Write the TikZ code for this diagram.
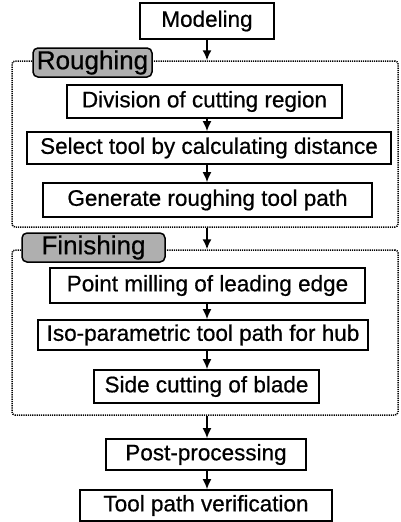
\documentclass[tikz,border=0pt]{standalone}
\usepackage{xcolor}
\usepackage{tikz}
\usepackage{fontspec}
\setmainfont{Liberation Sans}
\newfontfamily\boxfont{Liberation Sans}[FakeBold=0.6]
\definecolor{labelgray}{RGB}{175, 175, 175}
\usetikzlibrary{arrows.meta,positioning,calc}

\begin{document}
\begin{tikzpicture}[
    x=1pt, y=-1pt,
    stepbox/.style={
        rectangle,
        draw,
        line width=1.8pt,
        inner sep=0pt,
        align=center,
        font=\boxfont\fontsize{22.5}{25}\selectfont
    },
    stage/.style={
        rectangle,
        rounded corners=5pt,
        draw,
        line width=1.5pt,
        fill=labelgray,
        inner sep=0pt,
        font=\boxfont\fontsize{26}{28}\selectfont
    },
    frame/.style={
        rectangle,
        rounded corners=3pt,
        draw,
        line width=1.5pt,
        dash pattern=on 1.2pt off 1pt
    },
    arrow/.style={-{Latex[length=10pt,width=9pt]},line width=1.5pt}
]
    \useasboundingbox (0,0) rectangle (401,522);

    % Frames of the two stages
    \node[frame, minimum width=386, minimum height=166] (roughing) at (205,144) {};
    \node[frame, minimum width=386, minimum height=165] (finishing) at (205,332.5) {};

    % Stage labels
    \node[stage, minimum width=119, minimum height=29] (roughlabel) at (92.5,62.5) {Roughing};
    \node[stage, minimum width=143, minimum height=29] (finishlabel) at (93.5,247.5) {Finishing};

    % Modeling
    \node[stepbox, minimum width=134, minimum height=36] (modeling) at (207,21) {Modeling};

    % Roughing steps
    \node[stepbox, minimum width=275, minimum height=33] (division) at (204.5,101.5) {Division of cutting region};
    \node[stepbox, minimum width=364, minimum height=32] (select) at (209,148) {Select tool by calculating distance};
    \node[stepbox, minimum width=329, minimum height=34] (generate) at (207.5,200) {Generate roughing tool path};

    % Finishing steps
    \node[stepbox, minimum width=315, minimum height=35] (pointmill) at (207.5,285.5) {Point milling of leading edge};
    \node[stepbox, minimum width=330, minimum height=30] (iso) at (203,335) {Iso-parametric tool path for hub};
    \node[stepbox, minimum width=225, minimum height=33] (side) at (206.5,386.5) {Side cutting of blade};

    % Post steps
    \node[stepbox, minimum width=200, minimum height=31] (post) at (206,454.5) {Post-processing};
    \node[stepbox, minimum width=252, minimum height=31] (verify) at (206,505.5) {Tool path verification};

    % Arrows
    \draw[arrow] (modeling.south) -- (modeling.south |- roughing.north);
    \draw[arrow] (division.south -| modeling) -- (select.north -| modeling);
    \draw[arrow] (select.south -| modeling) -- (generate.north -| modeling);
    \draw[arrow] (roughing.south -| modeling) -- (finishing.north -| modeling);
    \draw[arrow] (pointmill.south -| modeling) -- (iso.north -| modeling);
    \draw[arrow] (iso.south -| modeling) -- (side.north -| modeling);
    \draw[arrow] (finishing.south -| modeling) -- (post.north -| modeling);
    \draw[arrow] (post.south -| modeling) -- (verify.north -| modeling);
\end{tikzpicture}
\end{document}
